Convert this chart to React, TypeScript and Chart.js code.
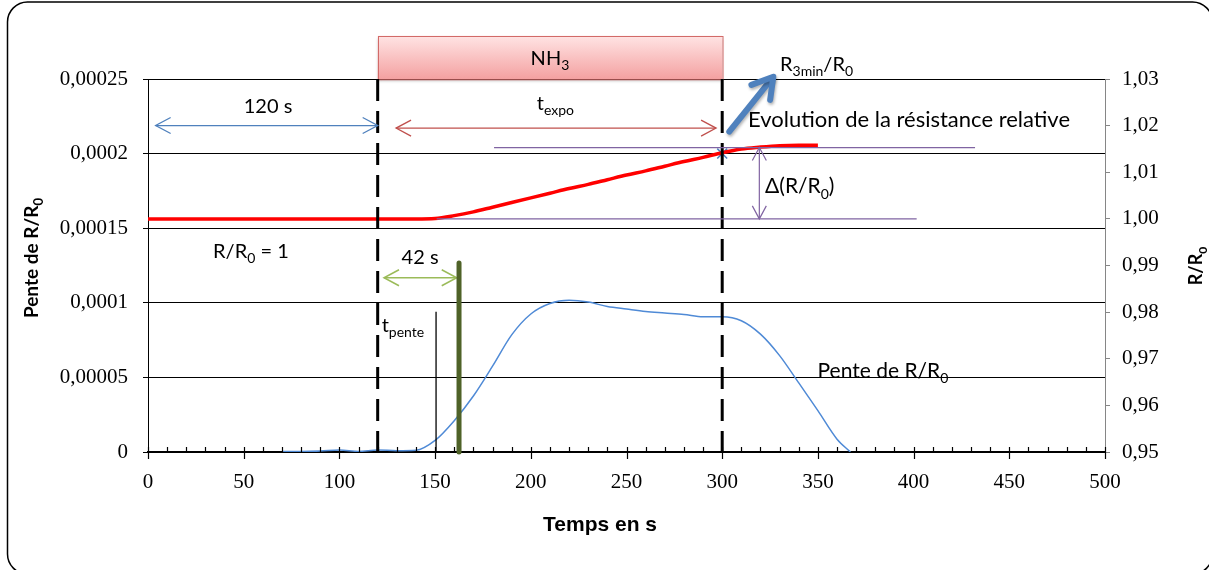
import React, { useEffect, useRef } from 'react';
import { Chart, registerables } from 'chart.js';

Chart.register(...registerables);

// ---------------- data ----------------
const ratioTimes = [0, 10, 20, 30, 40, 50, 60, 70, 80, 90, 100, 110, 120, 130, 140, 150, 160, 170, 180, 190, 200, 210, 220, 230, 240, 250, 260, 270, 280, 290, 300, 310, 320, 330, 340, 350];
const ratioValues = [1, 1, 1, 1, 1, 1, 1, 1, 1, 1, 1, 1, 1, 1, 1, 1.0001, 1.0007, 1.0015, 1.0025, 1.0035, 1.0045, 1.0055, 1.0065, 1.0074, 1.0084, 1.0094, 1.0103, 1.0113, 1.0123, 1.0132, 1.0142, 1.015, 1.0154, 1.0157, 1.0158, 1.0158];

const slopeTimes = [70, 80, 90, 100, 110, 120, 130, 140, 150, 160, 170, 180, 190, 200, 210, 220, 230, 240, 250, 260, 270, 280, 290, 300, 310, 320, 330, 340, 350, 360, 367];
const slopeValues = [0.0000003, 0.0000003, 0.0000006, 0.0000014, 0.0000004, 0.0000013, 0.0000009, 0.0000012, 0.0000078, 0.000021, 0.0000375, 0.0000575, 0.0000785, 0.0000925, 0.0000995, 0.0001017, 0.0001005, 0.0000975, 0.0000958, 0.0000942, 0.0000932, 0.0000922, 0.0000907, 0.0000907, 0.000088, 0.000079, 0.0000646, 0.0000463, 0.0000277, 0.0000086, 0];

const markerTimes = [300];
const markerRatios = [1.014];

const timeTickLabels = ['0', '50', '100', '150', '200', '250', '300', '350', '400', '450', '500'];
const slopeTickLabels = ['0', '0,00005', '0,0001', '0,00015', '0,0002', '0,00025'];
const ratioTickLabels = ['0,95', '0,96', '0,97', '0,98', '0,99', '1,00', '1,01', '1,02', '1,03'];

// annotation anchors, in data units (time in s, slope units, R/R0 units)
const exposureWindow = [120, 300];
const nh3BoxSlope = [0.00025, 0.000279];
const baselineArrow = [4, 120, 0.0002188];
const exposureArrow = [129.6, 296.8, 0.0002171];
const r3minArrow = [303.7, 0.0002147, 326.7, 0.0002515];
const plateauLine = [180.8, 432.1, 1.0153];
const baseLine = [150.8, 401.6, 1.0];
const deltaArrow = [319.4, 1.0153, 1.0];
const delayArrow = [123.3, 161.3, 0.0001168];
const greenMarker = [162.5, 0.0001267];
const slopeStartLine = [150.5, 0.000094];
const minorTickStep = 10;

const SANS = 'Lato, "Open Sans", sans-serif';
const SERIF = '"Liberation Serif", "Times New Roman", serif';
const ARIAL = '"Liberation Sans", Arial, sans-serif';

type Part = { t: string; sub?: boolean };

function drawRich(ctx: CanvasRenderingContext2D, parts: Part[], x: number, y: number, size: number, align: 'left' | 'center' = 'left', bold = false, family = SANS) {
  const w = bold ? 'bold ' : '';
  const subSize = Math.round(size * 0.68);
  const widths = parts.map((p) => {
    ctx.font = `${w}${p.sub ? subSize : size}px ${family}`;
    return ctx.measureText(p.t).width;
  });
  const total = widths.reduce((a, b) => a + b, 0);
  let cx = align === 'center' ? x - total / 2 : x;
  ctx.fillStyle = '#000';
  ctx.textAlign = 'left';
  ctx.textBaseline = 'alphabetic';
  parts.forEach((p, i) => {
    ctx.font = `${w}${p.sub ? subSize : size}px ${family}`;
    ctx.fillText(p.t, cx, p.sub ? y + size * 0.27 : y);
    cx += widths[i];
  });
}

function openHead(ctx: CanvasRenderingContext2D, tx: number, ty: number, ux: number, uy: number, len: number, half: number) {
  const nx = -uy, ny = ux;
  ctx.beginPath();
  ctx.moveTo(tx - ux * len + nx * half, ty - uy * len + ny * half);
  ctx.lineTo(tx, ty);
  ctx.lineTo(tx - ux * len - nx * half, ty - uy * len - ny * half);
  ctx.stroke();
}

function doubleArrow(ctx: CanvasRenderingContext2D, x1: number, y1: number, x2: number, y2: number, color: string, width: number, len: number, half: number) {
  ctx.save();
  ctx.strokeStyle = color;
  ctx.lineWidth = width;
  ctx.lineCap = 'butt';
  ctx.beginPath();
  ctx.moveTo(x1, y1);
  ctx.lineTo(x2, y2);
  ctx.stroke();
  const d = Math.hypot(x2 - x1, y2 - y1);
  const ux = (x2 - x1) / d, uy = (y2 - y1) / d;
  openHead(ctx, x2, y2, ux, uy, len, half);
  openHead(ctx, x1, y1, -ux, -uy, len, half);
  ctx.restore();
}

const annotationPlugin = {
  id: 'annotations',
  afterDraw(chart: any) {
    const { ctx, chartArea } = chart;
    const sx = chart.scales.x, sy = chart.scales.y, sr = chart.scales.y1;
    const X = (v: number) => sx.getPixelForValue(v);
    const Y = (v: number) => sy.getPixelForValue(v);
    const R = (v: number) => sr.getPixelForValue(v);
    ctx.save();

    // outer rounded frame
    ctx.strokeStyle = '#000';
    ctx.lineWidth = 1.5;
    ctx.beginPath();
    ctx.roundRect(7.5, 2, 1205, 572, 20);
    ctx.stroke();

    // x-axis tick marks (minor inside, major crossing)
    ctx.strokeStyle = '#000';
    ctx.lineWidth = 1.2;
    const y0 = chartArea.bottom;
    for (let t = sx.min; t <= sx.max + 1e-9; t += minorTickStep) {
      const px = Math.round(X(t)) + 0.5;
      ctx.beginPath();
      ctx.moveTo(px, y0 - 5);
      ctx.lineTo(px, t % 50 === 0 ? y0 + 7 : y0);
      ctx.stroke();
    }

    // NH3 box
    const bx1 = X(exposureWindow[0]), bx2 = X(exposureWindow[1]);
    const by1 = Y(nh3BoxSlope[1]), by2 = Y(nh3BoxSlope[0]);
    ctx.save();
    const g = ctx.createLinearGradient(0, by1, 0, by2);
    g.addColorStop(0, '#ffe4e4');
    g.addColorStop(1, '#f4a1a1');
    ctx.shadowColor = 'rgba(0,0,0,0.35)';
    ctx.shadowBlur = 3;
    ctx.shadowOffsetY = 2;
    ctx.fillStyle = g;
    ctx.fillRect(bx1, by1, bx2 - bx1, by2 - by1);
    ctx.restore();
    ctx.strokeStyle = '#d26a68';
    ctx.lineWidth = 1;
    ctx.strokeRect(Math.round(bx1) + 0.5, Math.round(by1) + 0.5, bx2 - bx1, by2 - by1);
    drawRich(ctx, [{ t: 'NH' }, { t: '3', sub: true }], X(210), Y(0.0002594), 20, 'center');

    // dashed exposure bounds
    ctx.save();
    ctx.strokeStyle = '#000';
    ctx.lineWidth = 3;
    ctx.setLineDash([22, 10]);
    exposureWindow.forEach((t) => {
      ctx.beginPath();
      ctx.moveTo(X(t), Y(0.00025));
      ctx.lineTo(X(t), Y(0));
      ctx.stroke();
    });
    ctx.restore();

    // 120 s arrow
    doubleArrow(ctx, X(baselineArrow[0]), Y(baselineArrow[2]), X(baselineArrow[1]), Y(baselineArrow[2]), '#4f81bd', 1.3, 15, 8);
    drawRich(ctx, [{ t: '120 s' }], X(62.7), Y(0.0002272), 20, 'center');

    // t_expo arrow
    doubleArrow(ctx, X(exposureArrow[0]), Y(exposureArrow[2]), X(exposureArrow[1]), Y(exposureArrow[2]), '#c0504d', 1.3, 15, 8);
    drawRich(ctx, [{ t: 't' }, { t: 'expo', sub: true }], X(203.1), Y(0.0002292), 20);

    // R3min/R0 thick arrow
    {
      const tx = X(r3minArrow[0]), ty = Y(r3minArrow[1]);
      const hx = X(r3minArrow[2]), hy = Y(r3minArrow[3]);
      const d = Math.hypot(hx - tx, hy - ty);
      const ux = (hx - tx) / d, uy = (hy - ty) / d;
      ctx.save();
      ctx.shadowColor = 'rgba(0,0,0,0.3)';
      ctx.shadowBlur = 3;
      ctx.shadowOffsetX = 1;
      ctx.shadowOffsetY = 2;
      ctx.strokeStyle = '#4f81bd';
      ctx.lineWidth = 6;
      ctx.lineCap = 'round';
      ctx.lineJoin = 'round';
      ctx.beginPath();
      ctx.moveTo(tx, ty);
      ctx.lineTo(hx - ux * 3, hy - uy * 3);
      ctx.stroke();
      openHead(ctx, hx, hy, ux, uy, 20, 12);
      ctx.restore();
    }
    drawRich(ctx, [{ t: 'R' }, { t: '3min', sub: true }, { t: '/R' }, { t: '0', sub: true }], X(330.2), Y(0.0002553), 20);
    drawRich(ctx, [{ t: 'Evolution de la résistance relative' }], X(313.5), Y(0.000218), 22);

    // purple reference lines + delta arrow
    ctx.strokeStyle = '#8064a2';
    ctx.lineWidth = 1.3;
    ctx.beginPath();
    ctx.moveTo(X(plateauLine[0]), R(plateauLine[2]));
    ctx.lineTo(X(plateauLine[1]), R(plateauLine[2]));
    ctx.moveTo(X(baseLine[0]), R(baseLine[2]));
    ctx.lineTo(X(baseLine[1]), R(baseLine[2]));
    ctx.stroke();
    doubleArrow(ctx, X(deltaArrow[0]), R(deltaArrow[1]), X(deltaArrow[0]), R(deltaArrow[2]), '#8064a2', 1.2, 13, 7);
    drawRich(ctx, [{ t: 'Δ(R/R' }, { t: '0', sub: true }, { t: ')' }], X(322.4), Y(0.0001736), 21);

    // R/R0 = 1
    drawRich(ctx, [{ t: 'R/R' }, { t: '0', sub: true }, { t: ' = 1' }], X(34), Y(0.00013), 20);

    // 42 s
    doubleArrow(ctx, X(delayArrow[0]), Y(delayArrow[2]), X(delayArrow[1]), Y(delayArrow[2]), '#9bbb59', 1.5, 15, 8);
    drawRich(ctx, [{ t: '42 s' }], X(132.5), Y(0.000126), 20);

    // thin t_pente line
    ctx.strokeStyle = '#000';
    ctx.lineWidth = 1.3;
    ctx.beginPath();
    ctx.moveTo(X(slopeStartLine[0]), Y(slopeStartLine[1]));
    ctx.lineTo(X(slopeStartLine[0]), Y(0));
    ctx.stroke();
    drawRich(ctx, [{ t: 't' }, { t: 'pente', sub: true }], X(122.1), Y(0.0000806), 20);

    // green marker bar
    ctx.strokeStyle = '#4f6228';
    ctx.lineWidth = 5;
    ctx.lineCap = 'round';
    ctx.beginPath();
    ctx.moveTo(X(greenMarker[0]), Y(greenMarker[1]));
    ctx.lineTo(X(greenMarker[0]), Y(0));
    ctx.stroke();
    ctx.lineCap = 'butt';

    drawRich(ctx, [{ t: 'Pente de R/R' }, { t: '0', sub: true }], X(349.8), Y(0.0000498), 21);

    // axis titles
    drawRich(ctx, [{ t: 'Temps en s' }], 600, 531, 21, 'center', true, ARIAL);
    ctx.save();
    ctx.translate(32, 258);
    ctx.rotate(-Math.PI / 2);
    drawRich(ctx, [{ t: 'Pente de R/R' }, { t: '0', sub: true }], 0, 6, 19, 'center', true);
    ctx.restore();
    ctx.save();
    ctx.translate(1196, 266);
    ctx.rotate(-Math.PI / 2);
    drawRich(ctx, [{ t: 'R/R' }, { t: '0', sub: true }], 0, 6, 18, 'center', true);
    ctx.restore();

    ctx.restore();
  },
};

export default function App() {
  const ref = useRef<HTMLCanvasElement>(null);
  useEffect(() => {
    if (!ref.current) return;
    const chart = new Chart(ref.current, {
      type: 'line',
      data: {
        datasets: [
          {
            label: 'R/R0',
            data: ratioTimes.map((t, i) => ({ x: t, y: ratioValues[i] })),
            yAxisID: 'y1',
            borderColor: '#ff0000',
            borderWidth: 3.5,
            pointRadius: 0,
            cubicInterpolationMode: 'monotone',
          },
          {
            label: 'Pente de R/R0',
            data: slopeTimes.map((t, i) => ({ x: t, y: slopeValues[i] })),
            yAxisID: 'y',
            borderColor: '#4f8ad6',
            borderWidth: 1.5,
            pointRadius: 0,
            cubicInterpolationMode: 'monotone',
          },
          {
            label: 'R3min/R0',
            data: markerTimes.map((t, i) => ({ x: t, y: markerRatios[i] })),
            yAxisID: 'y1',
            showLine: false,
            pointStyle: 'crossRot',
            pointRadius: 7,
            pointBorderWidth: 1.5,
            pointBorderColor: '#4f81bd',
            borderColor: '#4f81bd',
          },
        ],
      },
      options: {
        animation: false,
        responsive: false,
        events: [],
        layout: { padding: { top: 79, left: 0, right: 0, bottom: 0 } },
        plugins: { legend: { display: false }, tooltip: { enabled: false } },
        scales: {
          x: {
            type: 'linear',
            min: 0,
            max: 500,
            afterFit: (s: any) => { s.height = 118; },
            ticks: {
              stepSize: 50,
              color: '#000',
              font: { family: SERIF, size: 21 },
              padding: 18,
              callback: (_v: any, i: number) => timeTickLabels[i],
            },
            grid: { display: false, drawTicks: false },
            border: { display: true, color: '#000', width: 2 },
          },
          y: {
            position: 'left',
            min: 0,
            max: 0.00025,
            afterFit: (s: any) => { s.width = 148; },
            ticks: {
              stepSize: 0.00005,
              color: '#000',
              font: { family: SERIF, size: 21 },
              padding: 15,
              callback: (_v: any, i: number) => slopeTickLabels[i],
            },
            grid: { color: '#000', lineWidth: 1, tickLength: 5 },
            border: { display: true, color: '#000', width: 1 },
          },
          y1: {
            position: 'right',
            min: 0.95,
            max: 1.03,
            afterFit: (s: any) => { s.width = 104; },
            ticks: {
              stepSize: 0.01,
              color: '#000',
              font: { family: SERIF, size: 21 },
              padding: 12,
              callback: (_v: any, i: number) => ratioTickLabels[i],
            },
            grid: { drawOnChartArea: false, color: '#868686', tickLength: 5 },
            border: { display: true, color: '#868686', width: 1 },
          },
        },
      },
      plugins: [annotationPlugin],
    } as any);
    return () => chart.destroy();
  }, []);
  return (
    <div style={{ position: 'absolute', left: 0, top: 0, width: 1209, height: 570, background: '#fff' }}>
      <canvas ref={ref} width={1209} height={570} style={{ display: 'block' }} />
    </div>
  );
}
